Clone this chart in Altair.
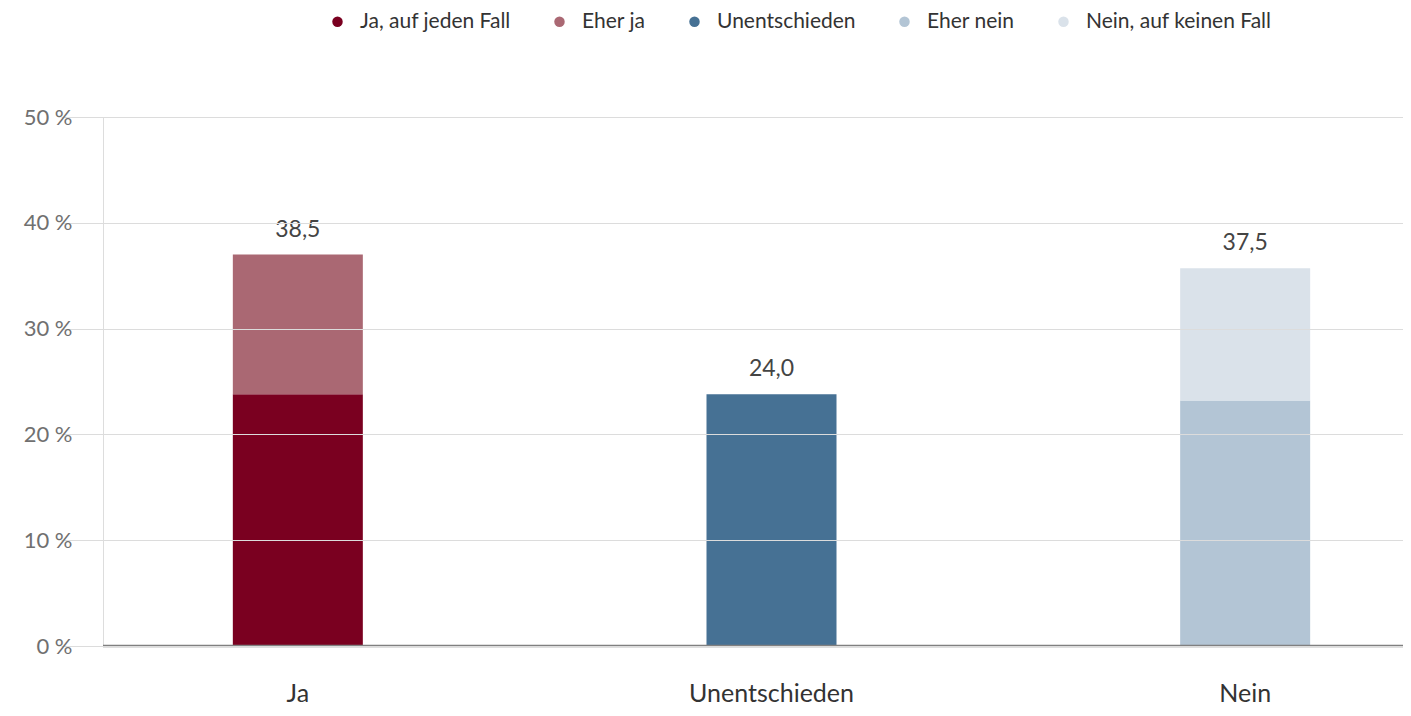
import altair as alt
import pandas as pd

categories = ["Ja", "Unentschieden", "Nein"]
seg_category = ["Ja", "Ja", "Unentschieden", "Nein", "Nein"]
seg_series = ["Ja, auf jeden Fall", "Eher ja", "Unentschieden", "Eher nein", "Nein, auf keinen Fall"]
seg_values = [23.8, 13.2, 23.8, 23.2, 12.5]
total_labels = ["38,5", "24,0", "37,5"]
colors = ["#7a0020", "#aa6873", "#467194", "#b3c5d5", "#dae2ea"]
y_ticks = [0, 10, 20, 30, 40, 50]

df = pd.DataFrame({"cat": seg_category, "series": seg_series,
                   "value": seg_values, "order": list(range(len(seg_values)))})
tot = df.groupby("cat", sort=False)["value"].sum().reindex(categories).reset_index()
tot["label"] = total_labels

FONT = "Lato"

xscale = alt.Scale(domain=categories, range=[-42, 1379], paddingInner=0, paddingOuter=0)
xaxis = alt.Axis(title=None, labelAngle=0, ticks=False, domain=False, labelPadding=35,
                 labelFontSize=25, labelColor="#333333", labelFont=FONT, grid=False,
                 gridOpacity=0, domainOpacity=0, tickOpacity=0)
yscale = alt.Scale(domain=[0, 50], nice=False)
yaxis = alt.Axis(title=None, values=y_ticks, labelExpr="datum.value + ' %'", ticks=False,
                 domain=False, domainOpacity=0, tickOpacity=0, labelPadding=31,
                 gridColor="#dcdcdc", labelFontSize=22,
                 labelColor="#707070", labelFont=FONT, zindex=1)

bars = alt.Chart(df).mark_bar(size=130).encode(
    x=alt.X("cat:N", sort=categories, scale=xscale, axis=xaxis),
    y=alt.Y("value:Q", stack="zero", scale=yscale, axis=yaxis),
    color=alt.Color("series:N", scale=alt.Scale(domain=seg_series, range=colors),
                    legend=alt.Legend(title=None, orient="none", legendX=224, legendY=-106,
                                      direction="horizontal", columns=5, symbolType="circle",
                                      symbolSize=110, symbolStrokeWidth=0, labelFontSize=21,
                                      labelFont=FONT, labelColor="#333333", labelOffset=12,
                                      labelLimit=0, columnPadding=38)),
    order=alt.Order("order:Q"),
)

labels = alt.Chart(tot).mark_text(baseline="alphabetic", dy=-18, fontSize=23, font=FONT,
                                  color="#444444").encode(
    x=alt.X("cat:N", sort=categories, scale=xscale, axis=xaxis),
    y=alt.Y("value:Q", scale=yscale, axis=yaxis),
    text="label:N",
)

zero = alt.Chart(pd.DataFrame({"y": [0]})).mark_rule(color="#808080", strokeWidth=2.5).encode(
    y=alt.Y("y:Q", scale=yscale, axis=yaxis))

chart = alt.layer(bars, labels, zero).properties(
    width=1300, height=529,
    autosize=alt.AutoSizeParams(type="none"),
    padding={"left": 95, "top": 109, "right": 0, "bottom": 68},
).configure_view(stroke="transparent", strokeWidth=0
).configure_axis(domain=False, ticks=False
).configure_axisX(grid=False
).configure(font=FONT)

chart.save("out.html", embed_options={"renderer": "svg", "actions": False})
